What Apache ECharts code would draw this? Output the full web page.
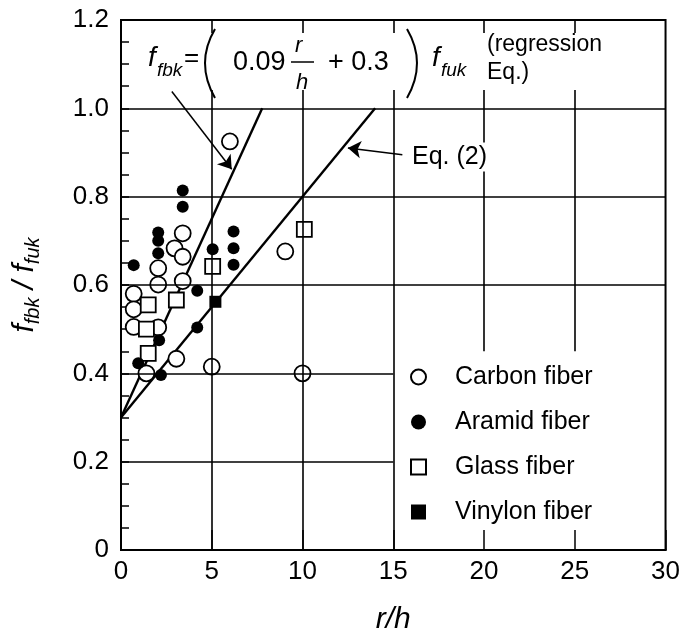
<!DOCTYPE html>
<html>
<head>
<meta charset="utf-8">
<script src="https://cdn.jsdelivr.net/npm/echarts@6/dist/echarts.min.js"></script>
<style>
html, body { margin: 0; padding: 0; background: #fff; }
#chart { width: 683px; height: 640px; }
</style>
</head>
<body>
<div id="chart"></div>
<script>
// Measured bond strength ratio f_fbk / f_fuk against bend radius ratio r/h
const carbonFiber = [[6.0,0.925],[3.4,0.717],[2.95,0.683],[3.4,0.664],[2.05,0.638],[2.05,0.601],[3.4,0.609],[2.05,0.504],[3.05,0.433],[1.4,0.40],[5.0,0.415],[0.7,0.58],[0.7,0.545],[0.7,0.505],[9.05,0.676],[10.0,0.40]];
const aramidFiber = [[3.4,0.814],[3.4,0.777],[2.05,0.719],[2.05,0.70],[2.05,0.672],[5.05,0.681],[6.2,0.721],[6.2,0.683],[6.2,0.646],[0.7,0.645],[4.2,0.587],[4.2,0.504],[2.1,0.475],[2.2,0.396],[0.95,0.423]];
const glassFiber = [[5.05,0.642],[3.05,0.566],[1.5,0.555],[1.4,0.50],[1.5,0.445],[10.1,0.726]];
const vinylonFiber = [[5.2,0.562]];

// Design lines: regression f = (0.09 r/h + 0.3) f_fuk and Eq. (2)
const regressionLine = [[0,0.3],[7.78,1.0]];
const eq2Line = [[0,0.3],[14,1.0]];

// Arrow pointers (tail, head) for the two line annotations
const regressionArrow = [[2.8,1.038],[6.1,0.862]];
const eq2Arrow = [[15.5,0.895],[12.5,0.91]];

// Axis ranges and grid positions
const xMax = 30, xStep = 5;
const yMax = 1.2, yStep = 0.2;
const gridXs = [5,10,15,20,25];
const gridYs = [0.2,0.4,0.6,0.8,1.0];
const legendCornerX = 15, legendCornerY = 0.45;

const seriesNames = ['Carbon fiber','Aramid fiber','Glass fiber','Vinylon fiber'];

const FONT = '"Liberation Sans", Arial, Helvetica, sans-serif';

// Grid lines, kept out of the legend corner at the bottom right
const gridSegments = [];
gridXs.forEach(x => {
  const y0 = x > legendCornerX ? legendCornerY : 0;
  gridSegments.push([{coord:[x,y0]},{coord:[x,yMax]}]);
});
gridYs.forEach(y => {
  const x1 = y < legendCornerY ? legendCornerX : xMax;
  gridSegments.push([{coord:[0,y]},{coord:[x1,y]}]);
});

const chart = echarts.init(document.getElementById('chart'), null, {renderer:'canvas'});

const option = {
  animation: false,
  backgroundColor: '#fff',
  textStyle: { fontFamily: FONT, color: '#000' },
  grid: { left: 121, right: 16, top: 20, bottom: 83, show: true, borderColor: '#000', borderWidth: 2, backgroundColor: 'transparent' },
  xAxis: {
    type: 'value', min: 0, max: xMax, interval: xStep,
    name: 'r/h', nameLocation: 'middle', nameGap: 55,
    nameTextStyle: { fontFamily: FONT, fontSize: 30, fontStyle: 'italic', color: '#000' },
    axisLine: { show: true, lineStyle: { color: '#000', width: 2 } },
    axisTick: { show: true, inside: true, length: 20, lineStyle: { color: '#000', width: 1.5 } },
    axisLabel: { fontFamily: FONT, fontSize: 26, color: '#000', margin: 9 },
    splitLine: { show: false }
  },
  yAxis: {
    type: 'value', min: 0, max: yMax, interval: yStep,
    name: '{a|f}{b|fbk}{a| / f}{b|fuk}', nameLocation: 'middle', nameGap: 78, nameRotate: 90,
    nameTextStyle: {
      fontFamily: FONT, color: '#000',
      rich: {
        a: { fontFamily: FONT, fontSize: 30, fontStyle: 'italic', color: '#000', lineHeight: 36 },
        b: { fontFamily: FONT, fontSize: 20, fontStyle: 'italic', color: '#000', lineHeight: 22, verticalAlign: 'bottom' }
      }
    },
    axisLine: { show: true, lineStyle: { color: '#000', width: 2 } },
    axisTick: { show: true, inside: true, length: 8, lineStyle: { color: '#000', width: 1.5 } },
    minorTick: { show: true, splitNumber: 4, length: 8, lineStyle: { color: '#000', width: 1.5 } },
    axisLabel: { fontFamily: FONT, fontSize: 26, color: '#000', margin: 12,
      formatter: v => v === 0 ? '0' : v.toFixed(1) },
    splitLine: { show: false }
  },
  legend: {
    orient: 'vertical', left: 405, top: 357,
    itemWidth: 15, itemHeight: 15, itemGap: 15,
    textStyle: { fontFamily: FONT, fontSize: 25, color: '#000', lineHeight: 30, padding: [0,0,0,24] },
    data: [
      { name: seriesNames[0], icon: 'circle' },
      { name: seriesNames[1], icon: 'circle' },
      { name: seriesNames[2], icon: 'rect' },
      { name: seriesNames[3], icon: 'rect' }
    ]
  },
  series: [
    {
      type: 'line', data: [], z: 1, silent: true,
      markLine: { silent: true, symbol: ['none','none'], animation: false,
        label: { show: false }, lineStyle: { color: '#000', width: 1.6, type: 'solid' },
        emphasis: { disabled: true }, data: gridSegments }
    },
    {
      type: 'line', data: regressionLine, z: 2, symbol: 'none', silent: true,
      lineStyle: { color: '#000', width: 2.4 },
      markLine: { silent: true, symbol: ['none','arrow'], symbolSize: 13, animation: false,
        label: { show: false }, lineStyle: { color: '#000', width: 1.5, type: 'solid' },
        data: [[{coord: regressionArrow[0]},{coord: regressionArrow[1]}]] }
    },
    {
      type: 'line', data: eq2Line, z: 2, symbol: 'none', silent: true,
      lineStyle: { color: '#000', width: 2.4 },
      markLine: { silent: true, symbol: ['none','arrow'], symbolSize: 13, animation: false,
        label: { show: false }, lineStyle: { color: '#000', width: 1.5, type: 'solid' },
        data: [[{coord: eq2Arrow[0]},{coord: eq2Arrow[1]}]] }
    },
    {
      name: seriesNames[0], type: 'scatter', data: carbonFiber, z: 4,
      symbol: 'circle', symbolSize: 16,
      itemStyle: { color: '#fff', borderColor: '#000', borderWidth: 1.8, opacity: 1 }
    },
    {
      name: seriesNames[1], type: 'scatter', data: aramidFiber, z: 5,
      symbol: 'circle', symbolSize: 12,
      itemStyle: { color: '#000', borderColor: '#000', borderWidth: 0, opacity: 1 }
    },
    {
      name: seriesNames[2], type: 'scatter', data: glassFiber, z: 4,
      symbol: 'rect', symbolSize: 15,
      itemStyle: { color: '#fff', borderColor: '#000', borderWidth: 1.8, opacity: 1 }
    },
    {
      name: seriesNames[3], type: 'scatter', data: vinylonFiber, z: 5,
      symbol: 'rect', symbolSize: 12,
      itemStyle: { color: '#000', borderColor: '#000', borderWidth: 0, opacity: 1 }
    }
  ],
  graphic: [
    // White panel behind the regression formula
    { type: 'rect', z: 100, shape: { x: 140, y: 33, width: 470, height: 57 }, style: { fill: '#fff' }, silent: true },
    { type: 'text', z: 101, x: 148, y: 72, style: { text: 'f', font: 'italic 28px ' + FONT, fill: '#000', textVerticalAlign: 'bottom' } },
    { type: 'text', z: 101, x: 157, y: 80, style: { text: 'fbk', font: 'italic 19px ' + FONT, fill: '#000', textVerticalAlign: 'bottom' } },
    { type: 'text', z: 101, x: 184, y: 72, style: { text: '=', font: '26px ' + FONT, fill: '#000', textVerticalAlign: 'bottom' } },
    { type: 'bezierCurve', z: 101, shape: { x1: 215, y1: 29, cpx1: 195, cpy1: 63, x2: 215, y2: 98 }, style: { stroke: '#000', lineWidth: 2, fill: null } },
    { type: 'text', z: 101, x: 233, y: 76, style: { text: '0.09', font: '27px ' + FONT, fill: '#000', textVerticalAlign: 'bottom' } },
    { type: 'text', z: 101, x: 295, y: 57, style: { text: 'r', font: 'italic 22px ' + FONT, fill: '#000', textVerticalAlign: 'bottom' } },
    { type: 'line', z: 101, shape: { x1: 291, y1: 62, x2: 314, y2: 62 }, style: { stroke: '#000', lineWidth: 1.5 } },
    { type: 'text', z: 101, x: 296, y: 94, style: { text: 'h', font: 'italic 22px ' + FONT, fill: '#000', textVerticalAlign: 'bottom' } },
    { type: 'text', z: 101, x: 328, y: 76, style: { text: '+ 0.3', font: '27px ' + FONT, fill: '#000', textVerticalAlign: 'bottom' } },
    { type: 'bezierCurve', z: 101, shape: { x1: 407, y1: 29, cpx1: 427, cpy1: 63, x2: 407, y2: 98 }, style: { stroke: '#000', lineWidth: 2, fill: null } },
    { type: 'text', z: 101, x: 432, y: 72, style: { text: 'f', font: 'italic 28px ' + FONT, fill: '#000', textVerticalAlign: 'bottom' } },
    { type: 'text', z: 101, x: 441, y: 80, style: { text: 'fuk', font: 'italic 19px ' + FONT, fill: '#000', textVerticalAlign: 'bottom' } },
    { type: 'text', z: 101, x: 487, y: 56, style: { text: '(regression', font: '23px ' + FONT, fill: '#000', textVerticalAlign: 'bottom' } },
    { type: 'text', z: 101, x: 487, y: 84, style: { text: 'Eq.)', font: '23px ' + FONT, fill: '#000', textVerticalAlign: 'bottom' } },
    // Eq. (2) label next to its arrow
    { type: 'text', z: 101, x: 410, y: 157, style: { text: 'Eq. (2)', font: '25px ' + FONT, fill: '#000', textVerticalAlign: 'middle', backgroundColor: '#fff', padding: [2,2,2,2] } }
  ]
};

chart.setOption(option);
</script>
</body>
</html>
